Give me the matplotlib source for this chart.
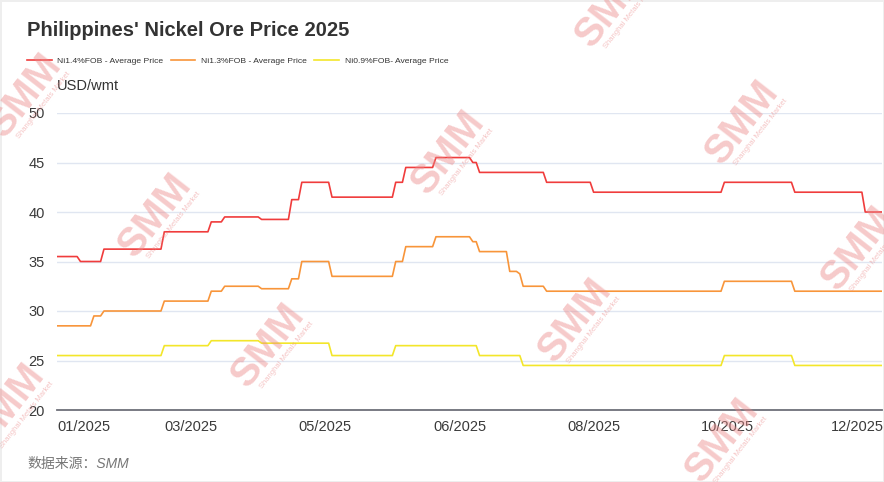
import numpy as np
import matplotlib.pyplot as plt
from matplotlib import transforms

plt.rcParams['font.family'] = ['Liberation Sans', 'DejaVu Sans']

title = "Philippines' Nickel Ore Price 2025"
unit = "USD/wmt"
source = "数据来源：SMM"
series_names = ["Ni1.4%FOB - Average Price", "Ni1.3%FOB - Average Price", "Ni0.9%FOB- Average Price"]
month_labels = ["01/2025", "03/2025", "05/2025", "06/2025", "08/2025", "10/2025", "12/2025"]

# price levels (USD/wmt) and how many trading days each level lasted
ni14_levels = [35.5, 35, 36.25, 38, 39, 39.5, 39.25, 41.25, 43, 41.5, 43, 44.5, 45.5, 45, 44, 43, 42, 43, 42, 40]
ni14_days = [7, 7, 18, 14, 4, 11, 9, 3, 9, 19, 3, 9, 11, 2, 20, 14, 39, 21, 21, 6]

ni13_levels = [28.5, 29.5, 30, 31, 32, 32.5, 32.25, 33.25, 35, 33.5, 35, 36.5, 37.5, 37, 36, 34, 33.75, 32.5, 32, 33, 32]
ni13_days = [11, 3, 18, 14, 4, 11, 9, 3, 9, 19, 3, 9, 11, 2, 9, 3, 1, 7, 53, 21, 27]

ni09_levels = [25.5, 26.5, 27, 26.75, 25.5, 26.5, 25.5, 24.5, 25.5, 24.5]
ni09_days = [32, 14, 15, 21, 19, 25, 13, 60, 21, 27]

colors = ['#f03c3c', '#f8953a', '#f3e62a']

ni14 = np.repeat(ni14_levels, ni14_days)
ni13 = np.repeat(ni13_levels, ni13_days)
ni09 = np.repeat(ni09_levels, ni09_days)
days = np.arange(len(ni14))

W, H = 884, 482
fig = plt.figure(figsize=(W / 100, H / 100), dpi=100)
fig.patch.set_edgecolor('#eeeeee')
fig.patch.set_linewidth(1)
ax = fig.add_axes([57 / W, 1 - 410 / H, (882 - 57) / W, (410 - 113) / H])

for vals, c, name in zip([ni14, ni13, ni09], colors, series_names):
    ax.plot(days, vals, color=c, lw=1.2, label=name, solid_joinstyle='round')

ax.set_xlim(0, len(days) - 1)
ax.set_ylim(20, 50)
ax.set_yticks(np.arange(20, 51, 5))
ax.grid(axis='y', color='#e0e6f1', lw=1)
ax.set_axisbelow(True)
for s in ['top', 'right', 'left']:
    ax.spines[s].set_visible(False)
ax.spines['bottom'].set_color('#6e7079')
ax.spines['bottom'].set_linewidth(1.3)
ax.tick_params(axis='both', length=0, labelsize=10.5, labelcolor='#3a3a3a')
ax.tick_params(axis='y', pad=9)
ax.tick_params(axis='x', pad=7)

ax.set_xticks(np.arange(0, len(days), 40))
ax.set_xticklabels(month_labels)
xl = ax.get_xticklabels()
xl[0].set_ha('left')
xl[-1].set_transform(xl[-1].get_transform() + transforms.ScaledTranslation(-0.05, 0, fig.dpi_scale_trans))

fig.text(27 / W, 1 - 30 / H, title, fontsize=14.5, fontweight='bold', color='#333333', va='center')
fig.text(57 / W, 1 - 86 / H, unit, fontsize=10.5, color='#333333', va='center')
fig.text(27 / W, 1 - 464 / H, source, fontsize=10, color='#777777', va='center', style='italic',
         family=['Liberation Sans', 'Noto Sans CJK SC'])

fig.legend(loc='center left', bbox_to_anchor=(27 / W, 1 - 61 / H), ncol=3, frameon=False,
           fontsize=6.1, handlelength=2.9, handletextpad=0.7, columnspacing=0.85,
           borderpad=0, borderaxespad=0, labelcolor='#333333')

# SMM watermarks
marks = [(25, 95), (155, 215), (268, 345), (448, 152), (575, 320), (742, 122), (858, 248), (722, 440), (612, 5), (8, 405)]
ang = 52
th = np.radians(ang)
for px, py in marks:
    fig.text(px / W, 1 - py / H, 'SMM', fontsize=29, fontweight='bold', color='#eb8a8a', alpha=0.45,
             rotation=ang, rotation_mode='anchor', ha='center', va='center', zorder=10)
    ox = 21 * np.sin(th) + 4 * np.cos(th)
    oy = -21 * np.cos(th) + 4 * np.sin(th)
    fig.text((px + ox) / W, 1 - py / H + oy / H, 'Shanghai Metals Market', fontsize=5.5, color='#eb8a8a',
             alpha=0.5, rotation=ang, rotation_mode='anchor', ha='center', va='center', zorder=10)

fig.savefig('out.png', dpi=100)
